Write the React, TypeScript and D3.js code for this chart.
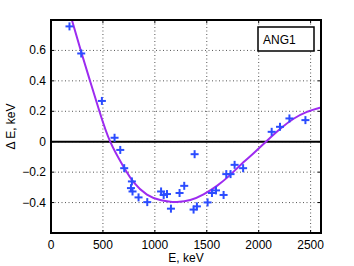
import React from "react";
import * as d3 from "d3";

const pointsE = [178, 291, 490, 612, 667, 705, 779, 770, 785, 843, 927, 1060, 1085, 1117, 1155, 1238, 1283, 1383, 1373, 1405, 1508, 1550, 1589, 1662, 1688, 1729, 1768, 1850, 2125, 2205, 2296, 2450];
const pointsDE = [0.758, 0.58, 0.268, 0.026, -0.054, -0.174, -0.261, -0.305, -0.327, -0.366, -0.397, -0.327, -0.35, -0.344, -0.44, -0.337, -0.29, -0.082, -0.446, -0.425, -0.399, -0.337, -0.32, -0.35, -0.213, -0.213, -0.152, -0.174, 0.065, 0.098, 0.153, 0.142];

const fitE = [190, 291, 378, 464, 570, 699, 795, 924, 1052, 1150, 1213, 1341, 1469, 1598, 1726, 1823, 1951, 2070, 2208, 2336, 2465, 2600];
const fitDE = [0.826, 0.59, 0.395, 0.205, 0.0, -0.165, -0.266, -0.348, -0.383, -0.395, -0.396, -0.383, -0.346, -0.29, -0.218, -0.154, -0.076, 0, 0.085, 0.151, 0.196, 0.225];

const xTicks = [0, 500, 1000, 1500, 2000, 2500];
const yTicks = [-0.4, -0.2, 0, 0.2, 0.4, 0.6];
const legendLabel = "ANG1";
const xLabel = "E, keV";
const yLabel = "\u0394 E, keV";

export default function App() {
  const left = 51, right = 321, top = 20, bottom = 233;
  const x = d3.scaleLinear().domain([0, 2600]).range([left, right]);
  const y = d3.scaleLinear().domain([-0.6, 0.8]).range([bottom, top]);
  const line = d3
    .line<number>()
    .x((d, i) => x(fitE[i]))
    .y((d) => y(d))
    .curve(d3.curveNatural);
  const fmtY = (v: number) => (v === 0 ? "0" : (v < 0 ? "\u2212" : "") + Math.abs(v).toFixed(1));
  const font = "Liberation Sans, Arial, Helvetica, sans-serif";
  const blue = "#2b4cff";
  const ms = 4;
  return (
    <svg width={354} height={266} style={{ position: "absolute", left: 0, top: 0, background: "#fff" }} fontFamily={font}>
      <defs>
        <clipPath id="plotclip">
          <rect x={left} y={top} width={right - left} height={bottom - top} />
        </clipPath>
      </defs>
      <rect x={left} y={top} width={right - left} height={bottom - top} fill="#fff" />
      {/* grid */}
      {xTicks.filter((t) => t > 0).map((t) => (
        <line key={"gx" + t} x1={x(t)} x2={x(t)} y1={top} y2={bottom} stroke="#555" strokeWidth={1} strokeDasharray="1,2.5" />
      ))}
      {yTicks.map((t) => (
        <line key={"gy" + t} x1={left} x2={right} y1={y(t)} y2={y(t)} stroke="#555" strokeWidth={1} strokeDasharray="1,2.5" />
      ))}
      {/* zero line */}
      <line x1={left} x2={right} y1={y(0)} y2={y(0)} stroke="#000" strokeWidth={2} />
      {/* fit */}
      <g clipPath="url(#plotclip)">
        <path d={line(fitDE) || ""} fill="none" stroke="#9d2bf0" strokeWidth={2} />
      </g>
      {/* points */}
      {pointsE.map((e, i) => (
        <g key={"p" + i} stroke={blue} strokeWidth={2}>
          <line x1={x(e) - ms} x2={x(e) + ms} y1={y(pointsDE[i])} y2={y(pointsDE[i])} />
          <line x1={x(e)} x2={x(e)} y1={y(pointsDE[i]) - ms} y2={y(pointsDE[i]) + ms} />
        </g>
      ))}
      {/* ticks */}
      {xTicks.map((t) => (
        <g key={"tx" + t}>
          <line x1={x(t)} x2={x(t)} y1={bottom} y2={bottom - 3} stroke="#000" />
          <line x1={x(t)} x2={x(t)} y1={top} y2={top + 3} stroke="#000" />
          <text x={x(t)} y={bottom + 16} fontSize={12} textAnchor="middle" fill="#000">{t}</text>
        </g>
      ))}
      {yTicks.map((t) => (
        <g key={"ty" + t}>
          <line x1={left} x2={left + 3} y1={y(t)} y2={y(t)} stroke="#000" />
          <line x1={right} x2={right - 3} y1={y(t)} y2={y(t)} stroke="#000" />
          <text x={left - 5} y={y(t) + 4} fontSize={12} textAnchor="end" fill="#000">{fmtY(t)}</text>
        </g>
      ))}
      {/* frame */}
      <rect x={left} y={top} width={right - left} height={bottom - top} fill="none" stroke="#000" strokeWidth={2} />
      {/* legend */}
      <rect x={258} y={27} width={56} height={24} fill="#fff" stroke="#000" strokeWidth={1.5} />
      <text x={263} y={44} fontSize={12} fill="#000">{legendLabel}</text>
      {/* labels */}
      <text x={(left + right) / 2} y={262} fontSize={12} textAnchor="middle" fill="#000">{xLabel}</text>
      <text transform={`translate(15,${(top + bottom) / 2}) rotate(-90)`} fontSize={12} textAnchor="middle" fill="#000">{yLabel}</text>
    </svg>
  );
}
